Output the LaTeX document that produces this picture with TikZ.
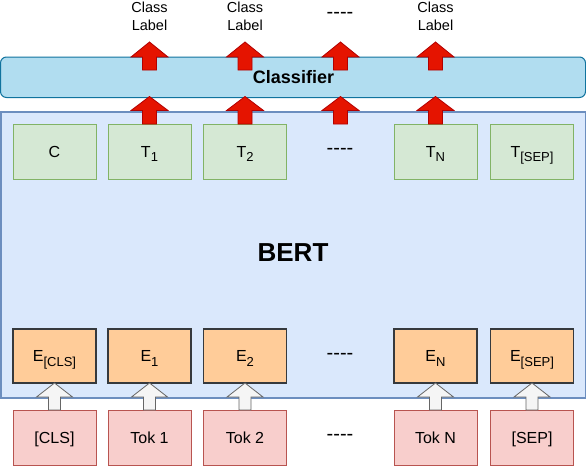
\documentclass[tikz,border=0pt]{standalone}
\usepackage{fontspec}
\setmainfont{Liberation Sans}
\definecolor{bertfill}{HTML}{DAE8FC}
\definecolor{bertline}{HTML}{6C8EBF}
\definecolor{clsfill}{HTML}{B1DDF0}
\definecolor{clsline}{HTML}{10739E}
\definecolor{tfill}{HTML}{D5E8D4}
\definecolor{tline}{HTML}{82B366}
\definecolor{efill}{HTML}{FFCC99}
\definecolor{eline}{HTML}{36393D}
\definecolor{tokfill}{HTML}{F8CECC}
\definecolor{tokline}{HTML}{B85450}
\definecolor{redfill}{HTML}{E51400}
\definecolor{redline}{HTML}{B20000}
\definecolor{whitefill}{HTML}{F5F5F5}
\definecolor{whiteline}{HTML}{666666}
\newcommand\mysub[1]{\raisebox{-4.5pt}[0pt][0pt]{\fontsize{13}{13}\selectfont #1}}
% block arrow: style, cx, ytip, ybase, ybottom, headhalf, shafthalf
\newcommand\blockup[7]{%
  \draw[#1] ({#2-#7},#5) -- ({#2-#7},#4) -- ({#2-#6},#4) -- (#2,#3) -- ({#2+#6},#4) -- ({#2+#7},#4) -- ({#2+#7},#5) -- cycle;}
\tikzset{
  lbl/.style={font=\fontsize{16}{18}\selectfont, text height=11.5pt, text depth=0pt},
  tbox/.style={lbl, draw=tline, fill=tfill, line width=1pt, minimum width=83pt, minimum height=55pt, inner sep=0pt},
  ebox/.style={lbl, draw=eline, fill=efill, line width=1.2pt, minimum width=83pt, minimum height=54pt, inner sep=0pt},
  tokbox/.style={lbl, draw=tokline, fill=tokfill, line width=1pt, minimum width=83pt, minimum height=55pt, inner sep=0pt},
  dots/.style={font=\fontsize{20}{20}\selectfont, inner sep=0pt},
  clabel/.style={font=\fontsize{14.5}{18}\selectfont, align=center, inner sep=0pt},
  redarrow/.style={fill=redfill, draw=redline, line width=0.8pt},
  whitearrow/.style={fill=whitefill, draw=whiteline, line width=0.8pt},
}
\begin{document}
\begin{tikzpicture}[x=1pt,y=-1pt]
\useasboundingbox (0,0) rectangle (586,466);
% BERT block
\node[draw=bertline, fill=bertfill, line width=1.5pt, minimum width=585pt, minimum height=286pt, inner sep=0pt, anchor=north west] (bert) at (0,111) {};
\node[font=\fontsize{26}{26}\selectfont\bfseries, inner sep=0pt] (berttxt) at (293,253) {BERT};
% Classifier
\node[draw=clsline, fill=clsfill, line width=1pt, rounded corners=6pt, minimum width=585pt, minimum height=40.5pt, inner sep=0pt, anchor=north west] (clsbox) at (0,56.5) {};
\node[font=\fontsize{18}{18}\selectfont\bfseries, inner sep=0pt] (clstxt) at (293.5,77) {Classifier};
% T row
\node[tbox] (tc) at (54.5,151.5) {C};
\node[tbox] (t1) at (149.5,151.5) {T\mysub{1}};
\node[tbox] (t2) at (245,151.5) {T\mysub{2}};
\node[tbox] (tn) at (435.5,151.5) {T\mysub{N}};
\node[tbox] (tsep) at (532,151.5) {T\mysub{[SEP]}};
% E row
\node[ebox] (ecls) at (54.5,356) {E\mysub{[CLS]}};
\node[ebox] (e1) at (149.5,356) {E\mysub{1}};
\node[ebox] (e2) at (245,356) {E\mysub{2}};
\node[ebox] (en) at (435.5,356) {E\mysub{N}};
\node[ebox] (esep) at (532,356) {E\mysub{[SEP]}};
% Tok row
\node[tokbox] (kcls) at (54.5,437.5) {[CLS]};
\node[tokbox] (k1) at (149.5,437.5) {Tok 1};
\node[tokbox] (k2) at (245,437.5) {Tok 2};
\node[tokbox] (kn) at (435.5,437.5) {Tok N};
\node[tokbox] (ksep) at (532,437.5) {[SEP]};
% dots
\node[dots] (d0) at (340,15) {-{}-{}-{}-};
\node[dots] (d1) at (340,151) {-{}-{}-{}-};
\node[dots] (d2) at (340,356) {-{}-{}-{}-};
\node[dots] (d3) at (340,437.5) {-{}-{}-{}-};
% class labels
\node[clabel] (l1) at (149.5,16) {Class\\Label};
\node[clabel] (l2) at (245,16) {Class\\Label};
\node[clabel] (l4) at (435.5,16) {Class\\Label};
% red arrows
\foreach \cx in {149.5,245,340.5,435.5}{
  \blockup{redarrow}{\cx}{42}{57}{70}{18.5}{7}
  \blockup{redarrow}{\cx}{96.5}{110.5}{124}{18.5}{7}
}
% white arrows
\foreach \cx in {54.5,149.5,245,435.5,532}{
  \blockup{whitearrow}{\cx}{383}{397}{410}{18}{6}
}
\end{tikzpicture}
\end{document}
